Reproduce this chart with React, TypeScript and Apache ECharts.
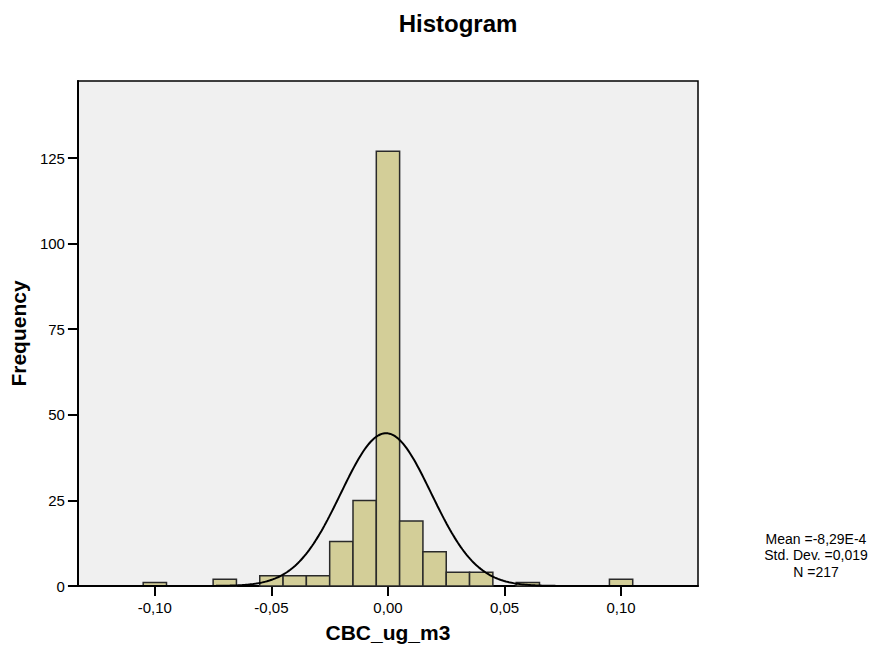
import React, { useEffect, useRef } from "react";
import * as echarts from "echarts";

// Histogram bins (centres) and frequencies, bin width 0.01
const binCenters = [-0.10, -0.07, -0.05, -0.04, -0.03, -0.02, -0.01, 0.00, 0.01, 0.02, 0.03, 0.04, 0.06, 0.10];
const frequencies = [1, 2, 3, 3, 3, 13, 25, 127, 19, 10, 4, 4, 1, 2];
const BIN_WIDTH = 0.01;

// Summary statistics shown beside the chart
const MEAN = -0.000829;
const SD = 0.0194;
const N = 217;
const statLines = ["Mean =-8,29E-4", "Std. Dev. =0,019", "N =217"];

// Axis ticks
const xTicks = [-0.1, -0.05, 0, 0.05, 0.1];
const yTicks = [0, 25, 50, 75, 100, 125];
const X_MIN = -0.133;
const X_MAX = 0.133;
const Y_MAX = 147.5;

const FONT = "'Liberation Sans', Arial, sans-serif";

export default function App() {
  const ref = useRef<HTMLDivElement>(null);

  useEffect(() => {
    if (!ref.current) return;
    const chart = echarts.init(ref.current, undefined, { renderer: "svg" });

    const barData = binCenters.map((c, i) => [c - BIN_WIDTH / 2, c + BIN_WIDTH / 2, frequencies[i]]);

    // Fitted normal curve scaled to counts: N * binWidth * pdf(x)
    const curve: number[][] = [];
    const steps = 400;
    for (let k = 0; k <= steps; k++) {
      const x = X_MIN + ((X_MAX - X_MIN) * k) / steps;
      const z = (x - MEAN) / SD;
      const y = (N * BIN_WIDTH) / (SD * Math.sqrt(2 * Math.PI)) * Math.exp(-0.5 * z * z);
      curve.push([x, y]);
    }

    const fmtX = (v: number) => v.toFixed(2).replace(".", ",");

    chart.setOption({
      animation: false,
      backgroundColor: "#ffffff",
      grid: {
        left: 77,
        top: 81,
        width: 621,
        height: 505,
        show: true,
        backgroundColor: "#f0f0f0",
        borderColor: "#000000",
        borderWidth: 1.5,
      },
      xAxis: {
        type: "value",
        min: X_MIN,
        max: X_MAX,
        splitLine: { show: false },
        axisLine: { show: true, onZero: false, lineStyle: { color: "#000", width: 2 } },
        axisTick: { show: true, customValues: xTicks, length: 10, lineStyle: { color: "#000", width: 2 } },
        axisLabel: {
          customValues: xTicks,
          formatter: (v: number) => fmtX(v),
          color: "#000",
          fontSize: 15,
          fontFamily: FONT,
          margin: 14,
        },
        name: "CBC_ug_m3",
        nameLocation: "middle",
        nameGap: 36,
        nameTextStyle: { color: "#000", fontSize: 21, fontWeight: "bold", fontFamily: FONT },
      },
      yAxis: {
        type: "value",
        min: 0,
        max: Y_MAX,
        splitLine: { show: false },
        axisLine: { show: true, onZero: false, lineStyle: { color: "#000", width: 2 } },
        axisTick: { show: true, customValues: yTicks, length: 10, lineStyle: { color: "#000", width: 2 } },
        axisLabel: {
          customValues: yTicks,
          formatter: (v: number) => String(v),
          color: "#000",
          fontSize: 15,
          fontFamily: FONT,
          margin: 13,
        },
        name: "Frequency",
        nameLocation: "middle",
        nameGap: 42,
        nameTextStyle: { color: "#000", fontSize: 21, fontWeight: "bold", fontFamily: FONT },
      },
      series: [
        {
          type: "custom",
          data: barData,
          encode: { x: [0, 1], y: 2 },
          renderItem: (params: any, api: any) => {
            const p0 = api.coord([api.value(0), api.value(2)]);
            const p1 = api.coord([api.value(1), 0]);
            return {
              type: "rect",
              shape: { x: p0[0], y: p0[1], width: p1[0] - p0[0], height: p1[1] - p0[1] },
              style: { fill: "#d3ce98", stroke: "#2a2a2a", lineWidth: 1.5 },
            };
          },
          z: 2,
        },
        {
          type: "line",
          data: curve,
          showSymbol: false,
          symbol: "none",
          lineStyle: { color: "#000", width: 2 },
          clip: true,
          z: 3,
        },
      ],
      graphic: [
        {
          type: "text",
          x: 458,
          y: 23,
          style: {
            text: "Histogram",
            fill: "#000",
            font: `bold 24px ${FONT}`,
            textAlign: "center",
            textVerticalAlign: "middle",
          },
        },
        {
          type: "text",
          x: 816,
          y: 555,
          style: {
            text: statLines.join("\n"),
            fill: "#000",
            fontSize: 14,
            fontFamily: FONT,
            lineHeight: 16.5,
            textAlign: "center",
            textVerticalAlign: "middle",
          },
        },
      ],
    });

    return () => chart.dispose();
  }, []);

  return (
    <div
      ref={ref}
      style={{ position: "fixed", left: 0, top: 0, width: 878, height: 648, background: "#fff" }}
    />
  );
}
